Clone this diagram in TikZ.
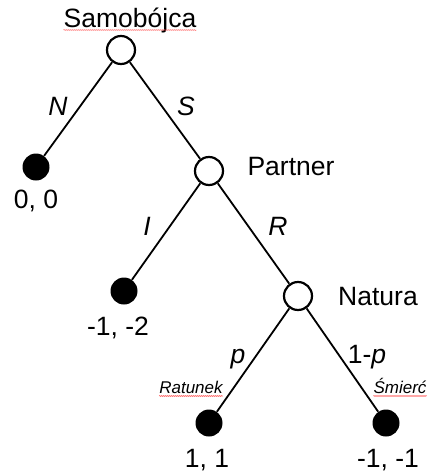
\documentclass[tikz,border=0pt]{standalone}
\usepackage{fontspec}
\setmainfont{Liberation Sans}
\usetikzlibrary{decorations.pathmorphing}

\begin{document}
\begin{tikzpicture}[x=1pt,y=-1pt,
	move/.style={circle,draw,line width=2.2pt,minimum size=28pt,inner sep=0pt},
	leaf/.style={circle,fill,minimum size=27pt,inner sep=0pt},
	txt/.style={font=\fontsize{26.5}{30}\selectfont,inner sep=0pt,anchor=base},
	act/.style={txt,font=\fontsize{26.5}{30}\selectfont\itshape},
	tag/.style={txt,font=\fontsize{17}{19}\selectfont\itshape},
	spell/.style={red!70,line width=0.5pt,decorate,
		decoration={snake,amplitude=0.5pt,segment length=2pt}}]
\useasboundingbox (0,0) rectangle (430,472);

% decision nodes and payoffs
\node[move] (samobojca) at (121,50) {};
\node[leaf] (n0) at (36,167) {};
\node[move] (partner) at (209,171) {};
\node[leaf] (n1) at (124,291) {};
\node[move] (natura) at (298,296) {};
\node[leaf] (n2) at (209,423) {};
\node[leaf] (n3) at (386,423) {};

\draw[line width=1.8pt] (samobojca) -- (n0);
\draw[line width=1.8pt] (samobojca) -- (partner);
\draw[line width=1.8pt] (partner) -- (n1);
\draw[line width=1.8pt] (partner) -- (natura);
\draw[line width=1.8pt] (natura) -- (n2);
\draw[line width=1.8pt] (natura) -- (n3);

% players
\node[txt] (gracz1) at (130,27) {Samobójca};
\node[txt] (gracz2) at (291,175) {Partner};
\node[txt] (gracz3) at (378,305) {Natura};

% actions
\node[act] at (58,115) {N};
\node[act] at (186,115) {S};
\node[act] at (147,235) {I};
\node[act] at (278,235) {R};
\node[act] at (238,363) {p};
\node[txt] at (367,363) {1-\textit{p}};

\node[tag] (ratunek) at (191,393) {Ratunek};
\node[tag] (smierc) at (400,393) {Śmierć};

% payoffs
\node[txt] at (36,208) {0, 0};
\node[txt] at (118,335) {-1, -2};
\node[txt] at (207,467) {1, 1};
\node[txt] at (388,467) {-1, -1};

% red spell-check underlines
\draw[spell] ([yshift=-3pt]gracz1.base west) -- ([yshift=-3pt]gracz1.base east);
\draw[spell] ([yshift=-3pt]ratunek.base west) -- ([yshift=-3pt]ratunek.base east);
\draw[spell] ([yshift=-3pt]smierc.base west) -- ([yshift=-3pt]smierc.base east);
\end{tikzpicture}
\end{document}
